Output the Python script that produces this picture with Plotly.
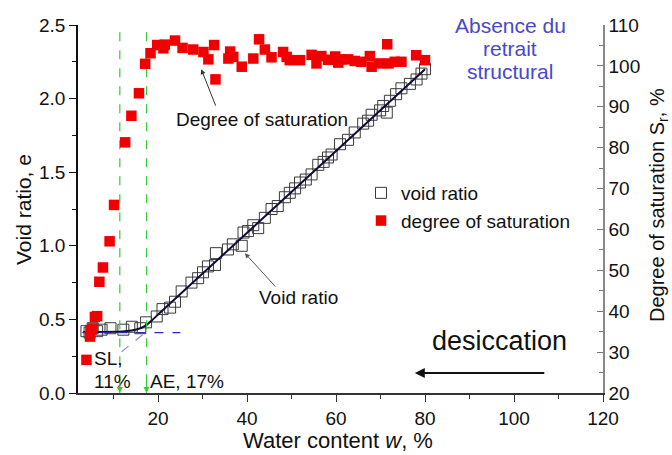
import plotly.graph_objects as go

# ---------- DATA ----------
# void ratio e vs water content w (%)
void_w = [3.9, 4.6, 5.3, 6.3, 7.3, 9.3, 12.2, 14.1, 16.0, 17.3,
          19.7, 21.0, 22.7, 23.8, 25.3, 27.5, 29.0, 30.1, 31.2, 32.8, 33.0,
          35.7, 36.8, 38.8, 39.2, 40.2, 41.4, 42.5, 44.0, 45.5, 46.9, 48.5,
          49.6, 50.8, 51.9, 53.2, 54.5, 56.0, 57.2, 58.2, 59.0, 60.9, 62.7,
          64.2, 66.1, 67.2, 68.0, 69.9, 70.6, 71.4, 72.1, 73.5, 74.7, 76.6,
          78.1, 79.2, 80.0]
void_e = [0.42, 0.41, 0.44, 0.42, 0.43, 0.44, 0.43, 0.45, 0.44, 0.48,
          0.52, 0.57, 0.58, 0.62, 0.69, 0.75, 0.78, 0.82, 0.86, 0.87, 0.95,
          0.975, 1.01, 1.00, 1.09, 1.10, 1.14, 1.12, 1.19, 1.25, 1.27, 1.33,
          1.36, 1.39, 1.43, 1.45, 1.485, 1.55, 1.57, 1.60, 1.62, 1.69, 1.72,
          1.77, 1.83, 1.85, 1.89, 1.92, 1.95, 1.905, 1.985, 2.03, 2.07, 2.10,
          2.13, 2.17, 2.20]

# degree of saturation Sr (%) vs water content w (%)
sat_w = [3.9, 4.7, 4.8, 5.3, 5.8, 6.3, 6.8, 7.6, 9.1, 10.1, 12.6, 14.0,
         15.7, 17.1, 18.3, 19.8, 21.2, 21.5, 23.8, 25.5, 27.9, 30.2, 31.3,
         32.6, 32.9, 35.8, 36.2, 36.9, 38.8, 41.4, 42.7, 44.0, 45.5, 48.1,
         48.9, 49.6, 51.9, 54.5, 55.6, 56.7, 58.2, 59.8, 60.5, 61.2, 62.7,
         64.2, 65.7, 67.6, 68.0, 69.7, 71.5, 71.8, 73.2, 74.7, 78.0, 80.0]
sat_s = [28.1, 33.8, 35.4, 35.8, 38.6, 38.8, 47.2, 50.7, 57.1, 66.0, 81.3, 87.8,
         93.3, 100.5, 103.1, 105.1, 104.3, 105.2, 106.2, 104.4, 104.0, 103.4, 101.6,
         105.1, 96.7, 101.8, 103.5, 102.2, 99.8, 101.8, 106.5, 104.0, 102.1, 103.4,
         102.2, 101.4, 101.4, 102.7, 100.6, 102.4, 101.5, 102.3, 100.8, 101.6, 101.6,
         101.2, 101.0, 102.4, 99.8, 100.6, 105.3, 100.6, 101.0, 101.0, 102.6, 101.4]

# fitted shrinkage curve
fit_w = [3.2, 8, 12, 14, 15.5, 17, 18.5, 20, 22, 25, 80]
fit_e = [0.415, 0.415, 0.418, 0.425, 0.435, 0.455, 0.49, 0.533, 0.589, 0.672, 2.2]

# construction lines
shrink_limit_w = [3.0, 25.0]
shrink_limit_e = [0.41, 0.41]
extrap_w = [11.8, 17.1]
extrap_e = [0.28, 0.41]
sl_w, ae_w = 11.4, 17.4
vline_e = [2.45, 0.0]

FONT = "Liberation Sans, Arial, sans-serif"

# ---------- PLOT ----------
fig = go.Figure()

fig.add_trace(go.Scatter(
    x=void_w, y=void_e, mode="markers", name="void ratio",
    legendgroup="a",
    marker=dict(symbol="square-open", size=11, color="#3a3a3a", line=dict(width=1)),
))
fig.add_trace(go.Scatter(
    x=sat_w, y=sat_s, mode="markers", name="degree of saturation",
    yaxis="y2", legendgroup="b",
    marker=dict(symbol="square", size=10.5, color="#f00000"),
))
fig.add_trace(go.Scatter(
    x=fit_w, y=fit_e, mode="lines", showlegend=False,
    line=dict(color="#0d0d35", width=2, shape="spline", smoothing=0.6),
))
fig.add_trace(go.Scatter(
    x=shrink_limit_w, y=shrink_limit_e, mode="lines", showlegend=False,
    line=dict(color="#2b2ba8", width=1.2, dash="dash"),
))
fig.add_trace(go.Scatter(
    x=extrap_w, y=extrap_e, mode="lines", showlegend=False,
    line=dict(color="#8c8ce0", width=1.2, dash="dash"),
))
for wv in (sl_w, ae_w):
    fig.add_trace(go.Scatter(
        x=[wv, wv], y=vline_e, mode="lines", showlegend=False,
        line=dict(color="#33cc33", width=1.2, dash="dash"),
    ))

# plot area in pixels
L, R, T, B = 78, 69, 25, 62
W, H = 672, 455
PW, PH = W - L - R, H - T - B


def px(x, y):
    return (x - L) / PW, (H - B - y) / PH


annotations = []


def text_at(x, y, text, size=19, color="#111", angle=0):
    xp, yp = px(x, y)
    annotations.append(dict(
        x=xp, y=yp, xref="paper", yref="paper", text=text, showarrow=False,
        textangle=angle, font=dict(family=FONT, size=size, color=color),
        xanchor="center", yanchor="middle",
    ))


# axis titles
text_at(23, 210, "Void ratio, e", size=21, angle=-90)
text_at(338, 440, "Water content <i>w</i>, %", size=22)
text_at(659, 205, "Degree of saturation S<sub>r</sub>, %", size=20, angle=-90)

# blue note
blue = "#4848c8"
text_at(510, 25, "Absence du", size=21, color=blue)
text_at(510, 48.5, "retrait", size=21, color=blue)
text_at(510, 72, "structural", size=21, color=blue)

# labels
text_at(262, 119, "Degree of saturation")
text_at(298, 297, "Void ratio")
text_at(499, 341, "desiccation", size=27)
text_at(108, 358, "SL,")
text_at(112, 381, "11%")
text_at(187, 381, "AE, 17%")

# arrows
annotations += [
    dict(x=29.7, y=2.2, ax=15, ay=38, showarrow=True, arrowhead=2, arrowsize=1,
         arrowwidth=1, arrowcolor="#333", text=""),
    dict(x=39.5, y=0.95, ax=32, ay=35, showarrow=True, arrowhead=2, arrowsize=1,
         arrowwidth=1, arrowcolor="#555", text=""),
    dict(x=77.7, y=0.136, ax=131, ay=0, showarrow=True, arrowhead=2, arrowsize=1,
         arrowwidth=2, arrowcolor="#111", text=""),
    dict(x=sl_w, y=0, ax=0, ay=-12, showarrow=True, arrowhead=2, arrowsize=1,
         arrowwidth=1.2, arrowcolor="#33cc33", text=""),
    dict(x=ae_w, y=0, ax=0, ay=-12, showarrow=True, arrowhead=2, arrowsize=1,
         arrowwidth=1.2, arrowcolor="#33cc33", text=""),
]

tickfont = dict(family=FONT, size=19, color="#111")

fig.update_layout(
    width=W, height=H,
    margin=dict(l=L, r=R, t=T, b=B),
    paper_bgcolor="white", plot_bgcolor="white",
    font=dict(family=FONT, color="#111"),
    showlegend=True,
    legend=dict(
        x=px(361, 0)[0], y=px(0, 174)[1], xanchor="left", yanchor="top",
        font=dict(family=FONT, size=19, color="#111"),
        bgcolor="rgba(0,0,0,0)", traceorder="grouped", tracegroupgap=0,
    ),
    xaxis=dict(
        range=[2, 120], dtick=20, tick0=0, showgrid=False, zeroline=False,
        showline=True, linecolor="#333", linewidth=1.5,
        ticks="outside", ticklen=7, tickcolor="#333", tickfont=tickfont,
        minor=dict(dtick=10, tick0=0, ticks="outside", ticklen=4, tickcolor="#333"),
    ),
    yaxis=dict(
        range=[0, 2.5], dtick=0.5, tickformat=".1f", showgrid=False, zeroline=False,
        showline=True, linecolor="#111", linewidth=1.8,
        ticks="outside", ticklen=7, tickcolor="#111", tickfont=tickfont,
        minor=dict(dtick=0.25, ticks="outside", ticklen=4, tickcolor="#111"),
    ),
    yaxis2=dict(
        range=[20, 110], dtick=10, overlaying="y", side="right",
        showgrid=False, zeroline=False,
        showline=True, linecolor="#888", linewidth=1.5,
        ticks="inside", ticklen=6, tickcolor="#777", tickfont=tickfont,
        minor=dict(dtick=5, ticks="inside", ticklen=4, tickcolor="#777"),
    ),
    annotations=annotations,
)

# the page body has a default 8px margin; drop it so the figure sits at 0,0
fig.write_html("out.html", config={"displayModeBar": False},
               post_script="document.body.style.margin='0px';")
